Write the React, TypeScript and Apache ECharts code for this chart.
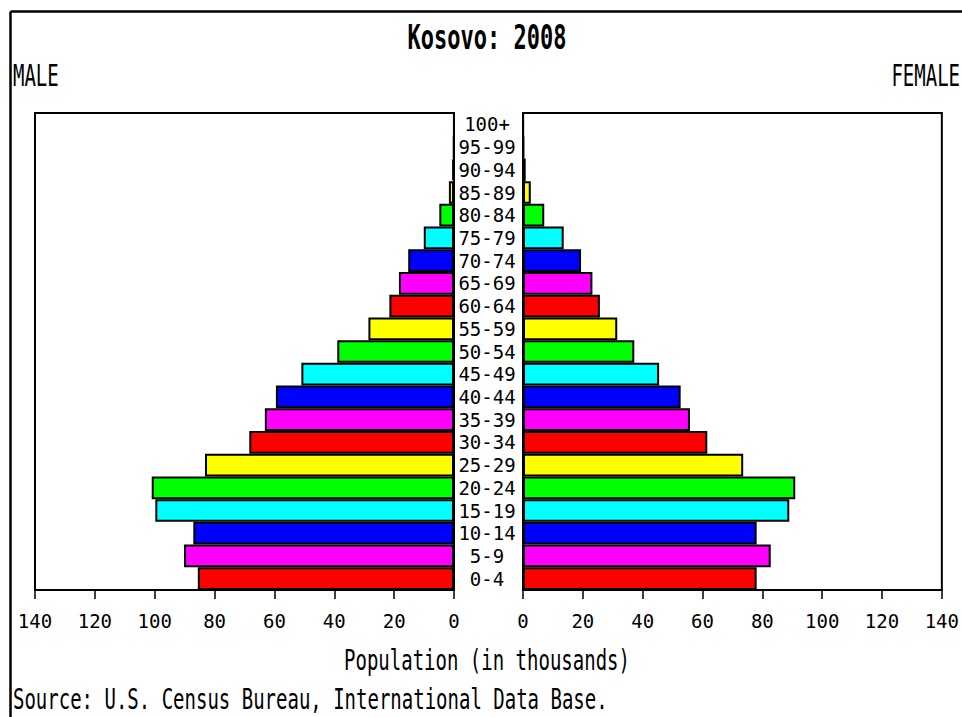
import React, { useEffect, useRef } from "react";
import * as echarts from "echarts";

const ageGroups = [
  "0-4", "5-9", "10-14", "15-19", "20-24", "25-29", "30-34", "35-39", "40-44", "45-49",
  "50-54", "55-59", "60-64", "65-69", "70-74", "75-79", "80-84", "85-89", "90-94", "95-99", "100+",
];
const maleValues = [
  85.6, 90.2, 87.1, 99.8, 101.0, 83.2, 68.4, 63.2, 59.5, 51.0,
  39.0, 28.6, 21.6, 18.4, 15.3, 10.1, 4.9, 1.7, 0.6, 0.2, 0.05,
];
const femaleValues = [
  78.1, 82.8, 78.1, 89.0, 91.0, 73.6, 61.6, 55.8, 52.7, 45.5,
  37.2, 31.5, 25.7, 23.2, 19.4, 13.6, 7.1, 2.6, 0.9, 0.3, 0.1,
];
const barColors = ["#ff0000", "#ff00ff", "#0000ff", "#00ffff", "#00ff00", "#ffff00"];
const titleText = "Kosovo: 2008";
const maleLabel = "MALE";
const femaleLabel = "FEMALE";
const axisTitle = "Population (in thousands)";
const sourceText = "Source: U.S. Census Bureau, International Data Base.";

const FONT = "'DejaVu Sans Mono', 'Liberation Mono', monospace";

export default function App() {
  const ref = useRef<HTMLDivElement>(null);
  useEffect(() => {
    if (!ref.current) return;
    const chart = echarts.init(ref.current, null, { renderer: "svg" });
    const xAxisCommon = (inverse: boolean, gridIndex: number) => ({
      gridIndex,
      type: "value",
      min: 0,
      max: 140,
      interval: 20,
      inverse,
      axisLine: { show: true, onZero: false, lineStyle: { color: "#000", width: 2 } },
      axisTick: { show: true, length: 9, lineStyle: { color: "#000", width: 1.5 } },
      axisLabel: {
        show: true,
        margin: 21,
        fontSize: 19,
        fontFamily: FONT,
        color: "#000",
        showMinLabel: true,
        showMaxLabel: true,
      },
      splitLine: { show: false },
    });
    const mkData = (vals: number[]) =>
      vals.map((v, i) => ({ value: v, itemStyle: { color: barColors[i % barColors.length] } }));
    const textStyle = (fontSize: number, bold = false) => ({
      fill: "#000",
      font: `${bold ? "bold " : ""}${fontSize}px ${FONT}`,
    });
    const option = {
      animation: false,
      backgroundColor: "#fff",
      grid: [
        { left: 35, top: 113, width: 419, height: 477, show: true, borderColor: "#000", borderWidth: 2, backgroundColor: "#fff" },
        { left: 523, top: 113, width: 419, height: 477, show: true, borderColor: "#000", borderWidth: 2, backgroundColor: "#fff" },
      ],
      xAxis: [xAxisCommon(true, 0), xAxisCommon(false, 1)],
      yAxis: [
        {
          gridIndex: 0,
          type: "category",
          data: ageGroups,
          position: "right",
          axisLine: { show: true, lineStyle: { color: "#000", width: 2 } },
          axisTick: { show: false },
          axisLabel: {
            show: true,
            interval: 0,
            align: "center",
            margin: 33,
            fontSize: 19,
            fontFamily: FONT,
            color: "#000",
          },
        },
        {
          gridIndex: 1,
          type: "category",
          data: ageGroups,
          position: "left",
          axisLine: { show: true, lineStyle: { color: "#000", width: 2 } },
          axisTick: { show: false },
          axisLabel: { show: false },
        },
      ],
      series: [
        {
          type: "bar",
          name: maleLabel,
          xAxisIndex: 0,
          yAxisIndex: 0,
          data: mkData(maleValues),
          barCategoryGap: "0%",
          itemStyle: { borderColor: "#000", borderWidth: 2 },
        },
        {
          type: "bar",
          name: femaleLabel,
          xAxisIndex: 1,
          yAxisIndex: 1,
          data: mkData(femaleValues),
          barCategoryGap: "0%",
          itemStyle: { borderColor: "#000", borderWidth: 2 },
        },
      ],
      graphic: [
        { type: "line", shape: { x1: 10.5, y1: 11.5, x2: 962, y2: 11.5 }, style: { stroke: "#000", lineWidth: 2.5 } },
        { type: "line", shape: { x1: 10.5, y1: 11.5, x2: 10.5, y2: 717 }, style: { stroke: "#000", lineWidth: 2.5 } },
        {
          type: "text", x: 487, y: 37.5, scaleY: 1.55,
          style: { ...textStyle(22, true), text: titleText, textAlign: "center", textVerticalAlign: "middle" },
        },
        {
          type: "text", x: 13, y: 75, scaleY: 1.6,
          style: { ...textStyle(19), text: maleLabel, textAlign: "left", textVerticalAlign: "middle" },
        },
        {
          type: "text", x: 960, y: 75, scaleY: 1.6,
          style: { ...textStyle(19), text: femaleLabel, textAlign: "right", textVerticalAlign: "middle" },
        },
        {
          type: "text", x: 487, y: 661, scaleY: 1.45,
          style: { ...textStyle(19), text: axisTitle, textAlign: "center", textVerticalAlign: "middle" },
        },
        {
          type: "text", x: 13, y: 700, scaleY: 1.45,
          style: { ...textStyle(19), text: sourceText, textAlign: "left", textVerticalAlign: "middle" },
        },
      ],
    };
    chart.setOption(option as any);
    return () => chart.dispose();
  }, []);
  return (
    <div
      ref={ref}
      style={{ position: "absolute", left: 0, top: 0, width: 962, height: 717, background: "#fff" }}
    />
  );
}
